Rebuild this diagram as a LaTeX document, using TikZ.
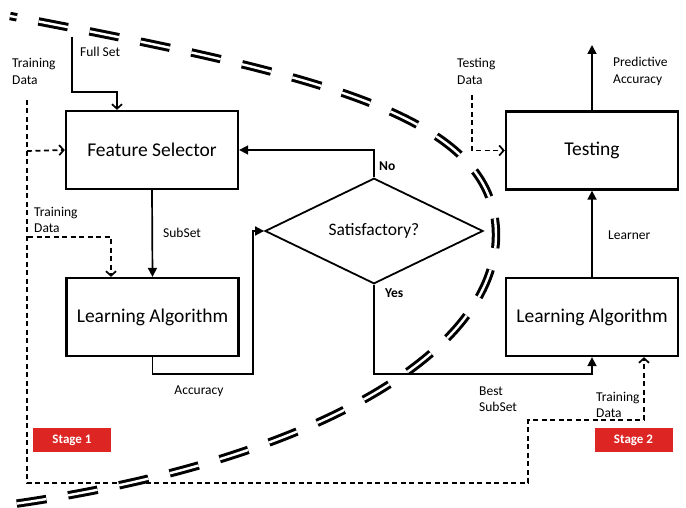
\documentclass[tikz,border=0pt]{standalone}
\usepackage{fontspec}
\setmainfont{Carlito}
\usetikzlibrary{arrows.meta,shapes.geometric}
\definecolor{stagered}{RGB}{221,38,36}
\tikzset{
  box/.style={draw, line width=2.3pt, minimum width=172pt, minimum height=78pt, font=\fontsize{19.5}{21}\selectfont, inner sep=0pt},
  conn/.style={line width=1.7pt, -{Triangle[length=9pt,width=9pt]}},
  dconn/.style={line width=1.7pt, dash pattern=on 5pt off 3.5pt, -{Straight Barb[length=4.5pt,width=10pt,line width=1.7pt]}},
  dline/.style={line width=1.7pt, dash pattern=on 5pt off 3.5pt},
  lbl/.style={font=\fontsize{13.5}{16.5}\selectfont, align=left, inner sep=0pt},
  blbl/.style={font=\fontsize{13.5}{16}\selectfont\bfseries, inner sep=0pt},
  stage/.style={fill=stagered, text=white, font=\fontsize{13}{16}\selectfont\bfseries, minimum width=78pt, minimum height=24pt, inner sep=0pt},
  border/.style={line width=3pt, double=white, double distance=2.4pt, dash pattern=on 30pt off 22pt, dash phase=23pt}
}
\begin{document}
\begin{tikzpicture}[x=1pt,y=-1pt]
\useasboundingbox[fill=white] (0,0) rectangle (686,508);
% boxes
\node[box] (fs) at (152,150) {Feature Selector};
\node[box] (la1) at (152.5,317) {Learning Algorithm};
\node[box] (test) at (592,150.5) {Testing};
\node[box] (la2) at (592,317) {Learning Algorithm};
\node[draw, diamond, line width=1.8pt, minimum width=218pt, minimum height=104pt, inner sep=0pt, font=\fontsize{17.5}{19}\selectfont] (dia) at (374,231) {Satisfactory?};
\node[stage] (s1) at (72,440) {Stage 1};
\node[stage] (s2) at (633.5,440) {Stage 2};
% labels
\node[lbl, anchor=west] (l1) at (12,71.5) {Training\\Data};
\node[lbl, anchor=west] (l2) at (80,52) {Full Set};
\node[lbl, anchor=west] (l3) at (34,220) {Training\\Data};
\node[lbl, anchor=west] (l4) at (163,233) {SubSet};
\node[lbl] (l5) at (199,391) {Accuracy};
\node[blbl, anchor=west] (l6) at (379,166) {No};
\node[blbl, anchor=west] (l7) at (385,293) {Yes};
\node[lbl, anchor=west] (l8) at (479,399) {Best\\SubSet};
\node[lbl, anchor=west] (l9) at (596,405) {Training\\Data};
\node[lbl, anchor=west] (l10) at (608,235) {Learner};
\node[lbl, anchor=west] (l11) at (457,71.5) {Testing\\Data};
\node[lbl, anchor=west] (l12) at (613,71.5) {Predictive\\Accuracy};
% coordinates
\coordinate (fullset) at (72,37);
\coordinate (td1) at (27,100);
\coordinate (td1b) at (27,151);
\coordinate (td2) at (28,237);
\coordinate (tstd) at (472,95);
\coordinate (pred) at (592,45);
% solid connectors
\draw[conn, -{Straight Barb[length=4.5pt,width=10pt,line width=1.7pt]}] (fullset) |- (117,92) -- ([xshift=-35pt]fs.north);
\draw[conn] (fs.south) -- (la1.north);
\draw[conn] (la1.south) |- (253,374) |- (dia.west);
\draw[conn] (dia.north) |- (fs.east);
\draw[conn] (dia.south) |- (la2.south |- 0,374) -- (la2.south);
\draw[conn] (la2.north) -- (test.south);
\draw[conn] (test.north) -- (pred);
% dashed connectors
\draw[dline] (td1) |- (528,483) |- (644,420);
\draw[dconn] (644,420) -- ([xshift=52pt]la2.south);
\draw[dconn] (td1b) -- (fs.west);
\draw[dconn] (td2) -| ([xshift=-41.5pt]la1.north);
\draw[dconn] (tstd) |- (test.west);
% stage boundary
\draw[border] (10,16) .. controls (320,75) and (496,115) .. (496,235)
  .. controls (496,350) and (320,460) .. (14,504);
\end{tikzpicture}
\end{document}
